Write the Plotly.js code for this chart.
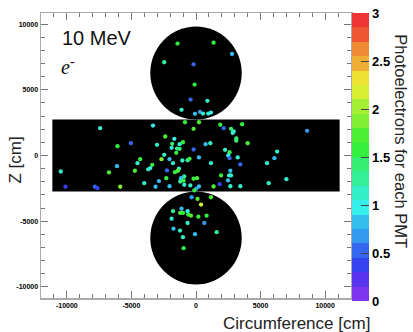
<!DOCTYPE html>
<html><head><meta charset="utf-8">
<script src="https://cdn.plot.ly/plotly-3.0.1.min.js"></script>
<style>html,body{margin:0;padding:0;background:#fff}#chart{width:413px;height:332px}</style>
</head><body><div id="chart"></div>
<script>
// PMT hits: unrolled position (cm) and photoelectrons
const pmtX = [
  -1430, 1360, 2790, -2460, -190, -110, -420, 880, -1120, -80, 310, 540, 950, 1160,
  -7420, -3330, -5040, -6080, -2380, -1680, -1840, -3020, -1270, -1010, -1890, -1470, -1270, -190, -1530,
  -850, -190, -2460, -4320, -4530, -2670, -2050, -1780, -3390, -1060, -650, -500, -6120, -3700, -3540,
  -2250, -1320, -1630, -1400, -4730, -6740, -10470, -910, -1160, -2300, -2870, -1220, -960, -190, 80,
  -910, -440, 20, 230, -130, -2050, -4010, -3130, -5870, -7830, -7630, -10110,
  230, 1880, 2140, 2710, 2920, 2840, 3570, 3120, 3120, 4000, 740, 1110, 2250, 2600, 2500, 2600, 3230,
  230, 1160, 3430, 6280, 6070, 5500, 8600, 2660, 1940, 2710, 2560, 2480, 1360, 1830, 2660, 3430, 5630, 7000,
  -340, 120, 1160, 390, -1120, -1780, -1220, -1010, -650, -600, -390, 180, 820, -1890, -650, 640,
  -1740, -1240, -80, 1600, -1010, -960
];
const pmtZ = [
  8520, 8590, 7730, 7100, 6940, 5400, 4260, 4160, 3480, 3170, 3320, 3190, 3190, 3270,
  2080, 2280, 935, 710, 1445, 1270, 890, 815, 860, 1010, 585, 530, 510, 455, 205,
  2530, 2030, 50, -280, -585, -280, -280, -585, -710, -380, -360, -250, -815, -1050, -960,
  -1140, -1010, -1270, -1160, -1160, -1290, -1220, -1600, -1730, -1730, -1950, -1980, -1920, -1770, -1730,
  -2230, -2280, -2530, -2360, -2660, -2340, -2110, -2380, -2380, -2380, -2490, -2380,
  2530, 2340, 2080, 2030, 1830, 1720, 2380, 1300, 1130, 935, 860, 935, 430, 250, 0, -205, -150,
  -150, -585, -680, 300, -205, -585, 1880, -1160, -1520, -1520, -1520, -1900, -2360, -2180, -2340, -2340, -2110, -1800,
  -3180, -3310, -3180, -3740, -4050, -4240, -4370, -4370, -4240, -4500, -4580, -4660, -4580, -4810, -5140, -5140,
  -5570, -5720, -5990, -5840, -6220, -7060
];
const pmtPE = [
  1.65, 1.6, 0.8, 1.3, 0.6, 1.6, 0.45, 1.1, 1.15, 0.75, 0.7, 1.1, 1.1, 0.9,
  1.2, 0.95, 0.45, 1.6, 1.7, 0.9, 1.4, 1.2, 1.1, 1.6, 1.1, 1.25, 1.4, 0.45, 1.6,
  1.6, 1.7, 1.05, 1.6, 1.05, 1.95, 0.85, 1.05, 1.6, 1.2, 1.3, 1.6, 0.85, 1.05, 1.1,
  0.45, 1.05, 1.6, 1.7, 1.7, 1.7, 1.2, 1.25, 0.75, 1.6, 0.85, 1.25, 1.6, 1.6, 1.7,
  1.2, 1.1, 0.7, 0.85, 1.65, 0.85, 1.05, 0.85, 1.95, 0.45, 0.4, 0.4,
  1.7, 1.5, 0.6, 1.4, 1.05, 1.15, 1.6, 1.35, 1.35, 1.7, 0.85, 1.2, 1.05, 1.6, 0.9, 0.55, 1.05,
  0.85, 1.2, 0.45, 1.2, 0.75, 1.2, 0.7, 0.85, 1.6, 1.1, 1.1, 0.85, 1.7, 0.4, 1.1, 1.05, 1.05, 1.05,
  0.7, 1.7, 1.7, 2.2, 0.75, 1.25, 1.7, 1.65, 0.9, 1.6, 1.7, 1.6, 1.6, 1.05, 1.2, 0.7,
  0.75, 1.2, 0.85, 1.25, 1.05, 1.6
];

const xTickVals = [-10000, -5000, 0, 5000, 10000];
const xTickText = ['-10000', '-5000', '0', '5000', '10000'];
const yTickVals = [-10000, -5000, 0, 5000, 10000];
const yTickText = ['-10000', '-5000', '0', '5000', '10000'];
const peTickVals = [0, 0.5, 1, 1.5, 2, 2.5, 3];
const peTickText = ['0', '0.5', '1', '1.5', '2', '2.5', '3'];

// detector geometry (cm)
const TANK_RADIUS = 3540;
const TANK_HALF_HEIGHT = 2740;
const HALF_CIRC = Math.PI * TANK_RADIUS;

const PE_MIN = 0, PE_MAX = 3, N_CONTOURS = 20, N_PALETTE = 50;

function hsl(h, s, l) {
  const a = s * Math.min(l, 1 - l);
  const f = n => { const k = (n + h / 30) % 12; return l - a * Math.max(-1, Math.min(k - 3, 9 - k, 1)); };
  return 'rgb(' + Math.round(255 * f(0)) + ',' + Math.round(255 * f(8)) + ',' + Math.round(255 * f(4)) + ')';
}
const colorscale = [];
for (let i = 0; i < N_CONTOURS; i++) {
  const idx = Math.floor((i + 0.99) * N_PALETTE / N_CONTOURS);
  const hue = idx >= N_PALETTE - 1 ? 0 : 280 - (idx + 1) * (280 / N_PALETTE);
  const c = hsl(hue, 0.85, 0.57);
  colorscale.push([i / N_CONTOURS, c]);
  colorscale.push([(i + 1) / N_CONTOURS, c]);
}

const trace = {
  type: 'scatter', mode: 'markers',
  x: pmtX, y: pmtZ,
  marker: {
    size: 4.3, symbol: 'circle', line: {width: 0},
    color: pmtPE, cmin: PE_MIN, cmax: PE_MAX, colorscale: colorscale,
    showscale: true,
    colorbar: {
      x: 1.003, xanchor: 'left', xpad: 0,
      y: 1, yanchor: 'top', ypad: 0,
      lenmode: 'pixels', len: 288,
      thicknessmode: 'pixels', thickness: 17,
      outlinewidth: 0,
      tickmode: 'array', tickvals: peTickVals, ticktext: peTickText,
      ticks: 'inside', ticklen: 8, tickcolor: '#444', tickwidth: 1,
      tickfont: {family: 'Liberation Sans, Arial, sans-serif', size: 13, color: '#000', weight: 'bold'}
    }
  },
  hoverinfo: 'skip'
};

const axisFont = {family: 'Liberation Sans, Arial, sans-serif', size: 7, color: '#000', weight: 'bold'};
const commonAxis = {
  showgrid: false, zeroline: false,
  showline: true, linecolor: '#aaa', linewidth: 1.5, mirror: 'ticks',
  ticks: 'inside', ticklen: 7, tickcolor: '#777', tickwidth: 1,
  tickmode: 'array', tickfont: axisFont,
  minor: {dtick: 1000, tick0: 0, ticks: 'inside', ticklen: 4, tickcolor: '#777', tickwidth: 1, showgrid: false}
};

const layout = {
  width: 413, height: 332,
  margin: {l: 41, r: 62, t: 13, b: 34, pad: 0},
  paper_bgcolor: '#fff', plot_bgcolor: '#fff',
  showlegend: false,
  xaxis: Object.assign({}, commonAxis, {range: [-12000, 12000], tickvals: xTickVals, ticktext: xTickText}),
  yaxis: Object.assign({}, commonAxis, {range: [-10850, 10850], tickvals: yTickVals, ticktext: yTickText}),
  shapes: [
    {type: 'rect', xref: 'x', yref: 'y', layer: 'below',
     x0: -HALF_CIRC, x1: HALF_CIRC, y0: -TANK_HALF_HEIGHT, y1: TANK_HALF_HEIGHT,
     fillcolor: '#000', line: {width: 0}},
    {type: 'circle', xref: 'x', yref: 'y', layer: 'below',
     x0: -TANK_RADIUS, x1: TANK_RADIUS, y0: TANK_HALF_HEIGHT, y1: TANK_HALF_HEIGHT + 2 * TANK_RADIUS,
     fillcolor: '#000', line: {width: 0}},
    {type: 'circle', xref: 'x', yref: 'y', layer: 'below',
     x0: -TANK_RADIUS, x1: TANK_RADIUS, y0: -TANK_HALF_HEIGHT - 2 * TANK_RADIUS, y1: -TANK_HALF_HEIGHT,
     fillcolor: '#000', line: {width: 0}}
  ],
  annotations: [
    {text: '10 MeV', xref: 'paper', yref: 'paper', x: 0.0613, y: 0.914, xanchor: 'left', yanchor: 'middle',
     showarrow: false, font: {family: 'Liberation Sans, Arial, sans-serif', size: 20, color: '#111'}},
    {text: '<i>e</i><sup>-</sup>', xref: 'paper', yref: 'paper', x: 0.058, y: 0.815, xanchor: 'left', yanchor: 'middle',
     showarrow: false, font: {family: 'Liberation Serif, Times New Roman, serif', size: 20, color: '#111'}},
    {text: 'Z [cm]', xref: 'paper', yref: 'paper', x: -0.0823, y: 0.484, xanchor: 'center', yanchor: 'middle',
     textangle: -90, showarrow: false, font: {family: 'Liberation Sans, Arial, sans-serif', size: 17, color: '#222'}},
    {text: 'Circumference [cm]', xref: 'paper', yref: 'paper', x: 1.068, y: -0.088, xanchor: 'right', yanchor: 'middle',
     showarrow: false, font: {family: 'Liberation Sans, Arial, sans-serif', size: 17, color: '#222'}},
    {text: 'Photoelectrons for each PMT', xref: 'paper', yref: 'paper', x: 1.161, y: 0.55, xanchor: 'center', yanchor: 'middle',
     textangle: 90, showarrow: false, font: {family: 'Liberation Sans, Arial, sans-serif', size: 16.5, color: '#222'}}
  ]
};

Plotly.newPlot('chart', [trace], layout, {displayModeBar: false, staticPlot: true});
</script>
</body></html>
